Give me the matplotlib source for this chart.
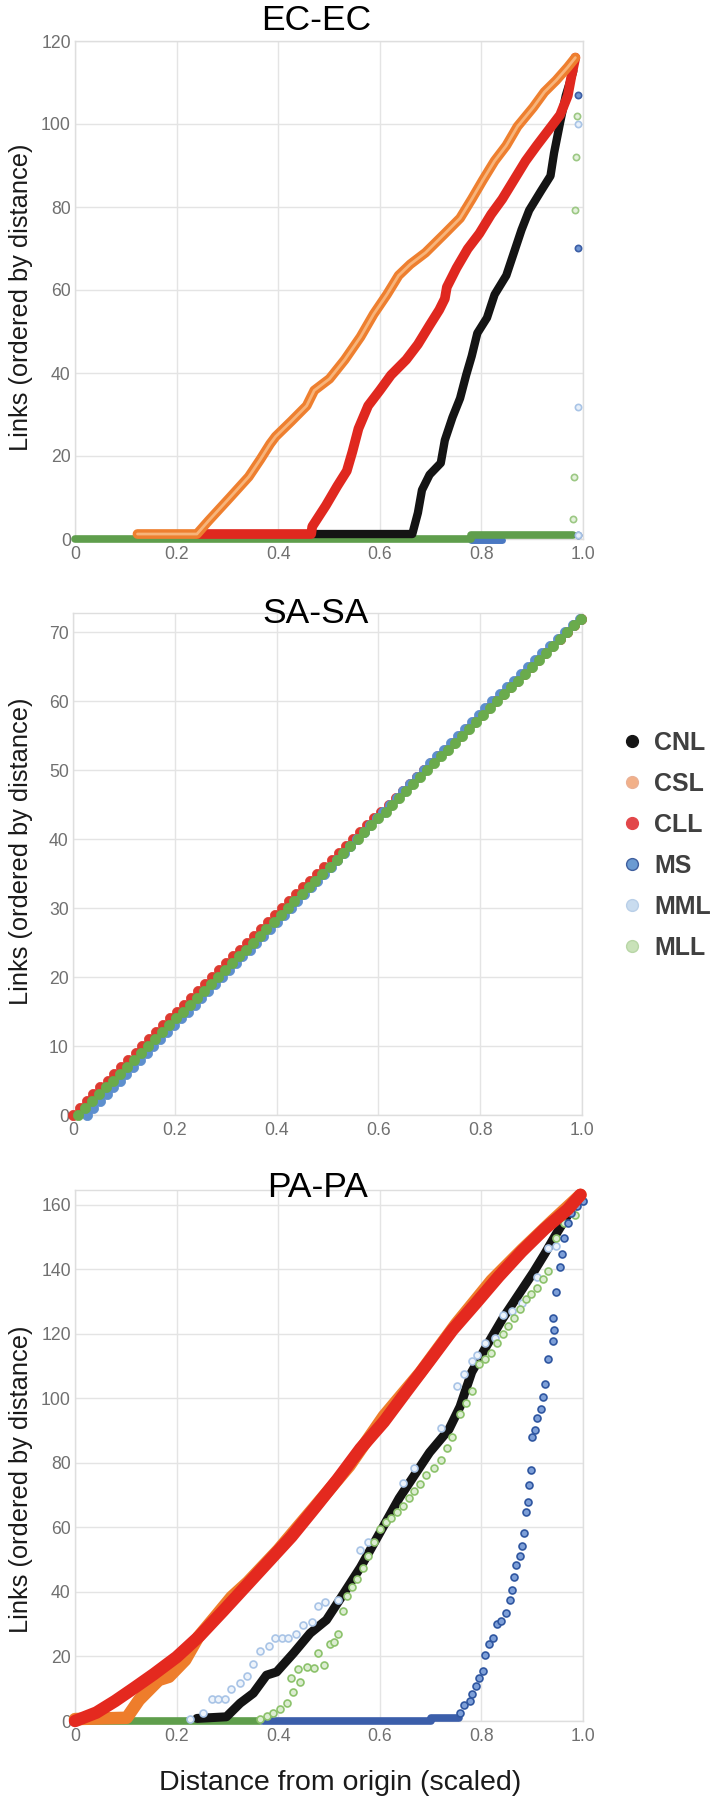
import matplotlib
matplotlib.use("Agg")
import matplotlib.pyplot as plt
from matplotlib.lines import Line2D

plt.rcParams['font.family'] = ['Liberation Sans', 'DejaVu Sans']

# legend
series_names = ['CNL', 'CSL', 'CLL', 'MS', 'MML', 'MLL']
legend_face = ['#151515', '#f2b088', '#e2474a', '#6b9bd2', '#c9dcef', '#c9e2b9']
legend_edge = ['#151515', '#eab095', '#e2474a', '#3f5f9e', '#b9cfe8', '#b8d6a6']

# ---------------- EC-EC ----------------
ec_cnl_x = [0.47, 0.664, 0.675, 0.683, 0.698, 0.72, 0.728, 0.743, 0.758, 0.77, 0.781, 0.792,
            0.811, 0.826, 0.849, 0.864, 0.879, 0.894, 0.917, 0.936, 0.943, 0.955, 0.966, 0.981]
ec_cnl_y = [1.2, 1.2, 6.3, 11.8, 15.5, 18.3, 23.8, 29.3, 33.9, 39.5, 44.1, 49.6,
            53.3, 58.9, 63.5, 69, 74.5, 79.2, 83.8, 87.5, 93, 100.4, 106.8, 112.8]

ec_csl_x = [0.123, 0.24, 0.263, 0.305, 0.342, 0.365, 0.384, 0.395, 0.426, 0.456, 0.471, 0.501,
            0.531, 0.562, 0.588, 0.614, 0.637, 0.66, 0.69, 0.728, 0.758, 0.781, 0.803, 0.826,
            0.849, 0.871, 0.902, 0.924, 0.947, 0.97, 0.985]
ec_csl_y = [1.2, 1.2, 4.4, 10, 15, 19.2, 22.9, 24.7, 28.4, 32.1, 35.8, 38.6,
            43.2, 48.7, 54.2, 58.9, 63.5, 66.2, 69, 73.6, 77.3, 81.9, 86.5, 91.1,
            94.8, 99.4, 104, 107.7, 110.5, 113.7, 116]

ec_cll_x = [0.24, 0.465, 0.467, 0.494, 0.516, 0.535, 0.546, 0.558, 0.577, 0.6, 0.622, 0.652,
            0.675, 0.698, 0.717, 0.728, 0.732, 0.751, 0.773, 0.796, 0.819, 0.841, 0.864,
            0.887, 0.909, 0.932, 0.955, 0.97, 0.977, 0.985]
ec_cll_y = [1.2, 1.2, 3, 8.1, 12.7, 16.4, 21, 26.6, 32.1, 35.8, 39.5, 43.2,
            46.9, 51.5, 55.2, 57.9, 60.7, 65.3, 69.9, 73.6, 78.2, 81.9, 86.5,
            91.1, 94.8, 98.5, 102.2, 106.8, 111.4, 116]

ec_ms_x = [0.78, 0.84]
ec_ms_y = [-0.3, -0.3]
ec_ms_pts_x = [0.991, 0.991, 0.991]
ec_ms_pts_y = [107, 70.1, 1]

ec_mml_pts_x = [0.991, 0.991, 0.991]
ec_mml_pts_y = [99.9, 31.9, 1]

ec_mll_x = [0.0, 0.78, 0.78, 0.98]
ec_mll_y = [0, 0, 1.0, 1.0]
ec_mll_pts_x = [0.988, 0.986, 0.985, 0.983, 0.98]
ec_mll_pts_y = [102, 92, 79.2, 14.9, 4.9]

# ---------------- SA-SA ----------------
sa_rank = [0, 1, 2, 3, 4, 5, 6, 7, 8, 9, 10, 11, 12, 13, 14, 15, 16, 17, 18, 19, 20,
           21, 22, 23, 24, 25, 26, 27, 28, 29, 30, 31, 32, 33, 34, 35, 36, 37, 38, 39, 40,
           41, 42, 43, 44, 45, 46, 47, 48, 49, 50, 51, 52, 53, 54, 55, 56, 57, 58, 59, 60,
           61, 62, 63, 64, 65, 66, 67, 68, 69, 70, 71, 72]
sa_cll_x = [0.000, 0.013, 0.027, 0.040, 0.054, 0.068, 0.081, 0.095, 0.109, 0.123,
            0.136, 0.150, 0.164, 0.177, 0.191, 0.205, 0.219, 0.232, 0.246, 0.260,
            0.273, 0.287, 0.301, 0.315, 0.328, 0.342, 0.356, 0.369, 0.383, 0.397,
            0.411, 0.424, 0.438, 0.452, 0.466, 0.480, 0.494, 0.508, 0.522, 0.536,
            0.550, 0.564, 0.578, 0.592, 0.606, 0.620, 0.634, 0.648, 0.662, 0.676,
            0.690, 0.704, 0.718, 0.732, 0.746, 0.760, 0.774, 0.788, 0.802, 0.816,
            0.830, 0.844, 0.858, 0.872, 0.886, 0.900, 0.914, 0.928, 0.942, 0.956,
            0.970, 0.984, 0.998]
sa_ms_x = [0.028, 0.040, 0.053, 0.066, 0.079, 0.092, 0.105, 0.118, 0.131, 0.145,
           0.158, 0.171, 0.185, 0.198, 0.212, 0.225, 0.239, 0.252, 0.266, 0.279,
           0.293, 0.306, 0.320, 0.333, 0.347, 0.360, 0.374, 0.387, 0.401, 0.414,
           0.428, 0.441, 0.454, 0.467, 0.480, 0.493, 0.506, 0.519, 0.532, 0.545,
           0.558, 0.571, 0.584, 0.597, 0.610, 0.623, 0.636, 0.649, 0.662, 0.675,
           0.689, 0.702, 0.716, 0.729, 0.743, 0.756, 0.770, 0.783, 0.797, 0.810,
           0.824, 0.838, 0.852, 0.866, 0.880, 0.894, 0.908, 0.922, 0.937, 0.952,
           0.967, 0.982, 0.997]
sa_mll_x = [0.010, 0.024, 0.038, 0.051, 0.065, 0.079, 0.092, 0.106, 0.120, 0.134,
            0.147, 0.161, 0.175, 0.188, 0.202, 0.216, 0.230, 0.243, 0.257, 0.271,
            0.284, 0.298, 0.312, 0.326, 0.339, 0.353, 0.367, 0.380, 0.394, 0.408,
            0.422, 0.435, 0.449, 0.463, 0.476, 0.490, 0.504, 0.518, 0.531, 0.545,
            0.559, 0.572, 0.586, 0.600, 0.614, 0.627, 0.641, 0.655, 0.668, 0.682,
            0.696, 0.710, 0.723, 0.737, 0.751, 0.764, 0.778, 0.792, 0.806, 0.819,
            0.833, 0.847, 0.860, 0.874, 0.888, 0.902, 0.915, 0.929, 0.943, 0.956,
            0.970, 0.984, 0.998]

# ---------------- PA-PA ----------------
pa_cll_x = [0.0, 0.042, 0.079, 0.117, 0.155, 0.2, 0.245, 0.291, 0.336, 0.381, 0.426, 0.472,
            0.517, 0.562, 0.608, 0.653, 0.698, 0.743, 0.789, 0.834, 0.879, 0.925, 0.97, 0.995]
pa_cll_y = [0, 2.6, 6.2, 10.3, 14.5, 19.8, 26.3, 34, 41.7, 49.4, 57.1, 66,
            74.9, 84.4, 92.7, 102.2, 111.6, 121.1, 129.4, 137.7, 145.4, 152.5, 158.5, 163]

pa_csl_x = [0.0, 0.102, 0.126, 0.165, 0.185, 0.217, 0.243, 0.276, 0.308, 0.34, 0.4, 0.47,
            0.54, 0.608, 0.68, 0.75, 0.82, 0.88, 0.94, 0.995]
pa_csl_y = [0.6, 1, 6.5, 12.7, 13.7, 18.9, 26.1, 32.3, 38.4, 43, 53, 66,
            79, 94.5, 108, 123, 136.5, 146, 155, 163]

pa_cnl_x = [0.24, 0.298, 0.325, 0.351, 0.377, 0.397, 0.43, 0.463, 0.495, 0.524, 0.562, 0.6,
            0.638, 0.668, 0.698, 0.736, 0.758, 0.781, 0.811, 0.842, 0.872, 0.902, 0.925,
            0.947, 0.97, 0.992]
pa_cnl_y = [0.8, 1.3, 5.5, 8.6, 14.2, 15.2, 21, 27.2, 31.3, 38.3, 47.6, 58.3,
            69, 76.1, 83.2, 90.3, 97.4, 108.1, 116.4, 124.7, 131.8, 138.9, 144.8,
            150.8, 156.7, 161.5]

pa_ms_x = [0.37, 0.70, 0.70, 0.755]
pa_ms_y = [0, 0, 0.8, 0.8]
pa_ms_pts_x = [0.758, 0.766, 0.777, 0.781, 0.789, 0.796, 0.804, 0.808, 0.815, 0.823, 0.83,
               0.838, 0.849, 0.857, 0.86, 0.864, 0.868, 0.875, 0.879, 0.883, 0.887, 0.891,
               0.894, 0.898, 0.9, 0.906, 0.909, 0.917, 0.921, 0.925, 0.932, 0.94, 0.943,
               0.94, 0.947, 0.955, 0.958, 0.962, 0.97, 0.977, 0.989, 1.0]
pa_ms_pts_y = [2.6, 5, 6.2, 8.5, 10.9, 13.3, 15.6, 20.4, 23.9, 25.7, 29.9,
               31.1, 33.4, 37.6, 40.5, 44.7, 48.2, 51.2, 54.2, 58.3, 64.8, 67.8,
               73.1, 77.9, 87.9, 90.3, 93.9, 96.8, 100.4, 104.5, 112.2, 117.6, 121.1,
               124.7, 133, 140.7, 144.8, 149.6, 154.3, 157.3, 159.6, 161]

pa_mml_pts_x = [0.226, 0.252, 0.269, 0.282, 0.295, 0.308, 0.325, 0.338, 0.351, 0.364, 0.381,
                0.394, 0.407, 0.42, 0.436, 0.449, 0.466, 0.479, 0.492, 0.517, 0.562, 0.577,
                0.645, 0.668, 0.721, 0.751, 0.766, 0.781, 0.792, 0.808, 0.826, 0.842, 0.86,
                0.879, 0.909, 0.932, 0.947, 0.985, 1.0]
pa_mml_pts_y = [0.5, 2.6, 6.7, 6.7, 6.7, 9.8, 11.9, 13.8, 17.7, 21.6, 23.1,
                25.8, 25.8, 25.8, 26.8, 29.7, 30.7, 35.5, 36.9, 37.6, 53, 55.3,
                73.7, 78.5, 90.9, 103.9, 107.5, 111.6, 113.4, 117, 118.8, 125.9, 127,
                129.4, 137.7, 146.6, 147.2, 159.6, 161]

pa_mll_x = [0.0, 0.364]
pa_mll_y = [0, 0]
pa_mll_pts_x = [0.364, 0.377, 0.39, 0.404, 0.417, 0.426, 0.43, 0.438, 0.443, 0.457, 0.47, 0.479,
                0.49, 0.502, 0.51, 0.517, 0.528, 0.536, 0.545, 0.555, 0.566, 0.577, 0.588, 0.6,
                0.612, 0.623, 0.634, 0.645, 0.657, 0.668, 0.68, 0.691, 0.706, 0.721, 0.732,
                0.743, 0.758, 0.77, 0.781, 0.796, 0.808, 0.819, 0.83, 0.842, 0.853, 0.864,
                0.876, 0.887, 0.898, 0.909, 0.921, 0.932, 0.947, 0.962, 0.985]
pa_mll_pts_y = [0.5, 1.5, 2.6, 3.6, 5.6, 13.3, 9.1, 16.2, 12.2, 16.8, 16.3, 21,
                17.4, 23.9, 24.5, 26.9, 34, 38.8, 41.5, 44.1, 47.5, 51.2, 55.5, 59.5,
                61.5, 63, 64.8, 66.6, 69, 71.3, 73.5, 76.1, 78.5, 80.8, 84.5,
                87.9, 95.1, 98.5, 102.2, 110.5, 112.2, 114, 117, 119.9, 122.4, 124.7,
                127.5, 130.6, 132.4, 134.2, 137, 139.5, 149.6, 154.3, 156.7]

fig = plt.figure(figsize=(7.2, 18), dpi=100)
ax1 = fig.add_axes([75 / 720, 1 - 539 / 1800, 508 / 720, 498 / 1800])
ax2 = fig.add_axes([73 / 720, 1 - 1115 / 1800, 509 / 720, 502 / 1800])
ax3 = fig.add_axes([75 / 720, 1 - 1721 / 1800, 508 / 720, 531 / 1800])


def style(ax, ymax, yticks):
    ax.set_xlim(0, 1.0)
    ax.set_ylim(0, ymax)
    ax.set_xticks([0, 0.2, 0.4, 0.6, 0.8, 1.0])
    ax.set_xticklabels(['0', '0.2', '0.4', '0.6', '0.8', '1.0'])
    ax.set_yticks(yticks)
    ax.set_yticklabels([str(t) for t in yticks])
    ax.grid(color='#e4e4e4', lw=1)
    ax.set_axisbelow(True)
    for s in ax.spines.values():
        s.set_color('#dedede')
        s.set_linewidth(1)
    ax.tick_params(length=0, labelsize=12.7, labelcolor='#707070')
    ax.tick_params(axis='x', pad=5)
    ax.tick_params(axis='y', pad=3)


def band(ax, x, y, color, lw, z):
    ax.plot(x, y, color=color, lw=lw, solid_capstyle='round', solid_joinstyle='round',
            clip_on=False, zorder=z)


def dots(ax, x, y, face, edge, ms, z, mew=1.2):
    ax.plot(x, y, 'o', ls='none', ms=ms, mfc=face, mec=edge, mew=mew, clip_on=False, zorder=z)


# EC-EC
style(ax1, 120, [0, 20, 40, 60, 80, 100, 120])
band(ax1, ec_ms_x, ec_ms_y, '#4a78c2', 5, 3)
band(ax1, ec_mll_x, ec_mll_y, '#5f9e4c', 5.5, 4)
band(ax1, ec_cnl_x, ec_cnl_y, '#141414', 6, 5)
band(ax1, ec_cll_x, ec_cll_y, '#e0281f', 7, 6)
band(ax1, ec_csl_x, ec_csl_y, '#ee7f2f', 7, 7)
band(ax1, ec_csl_x, ec_csl_y, '#f7b47a', 2, 7.5)
dots(ax1, ec_ms_pts_x, ec_ms_pts_y, '#7097d4', '#3c5ea5', 4.5, 8)
dots(ax1, ec_mml_pts_x, ec_mml_pts_y, '#e8f0fa', '#a9c4e6', 4.5, 8)
dots(ax1, ec_mll_pts_x, ec_mll_pts_y, '#e4f1dc', '#9cc884', 4.5, 8)

# SA-SA
style(ax2, 72.8, [0, 10, 20, 30, 40, 50, 60, 70])
dots(ax2, sa_cll_x, sa_rank, '#de3a30', '#de3a30', 7.4, 5, 0.5)
dots(ax2, sa_ms_x, sa_rank, '#5d8fce', '#5d8fce', 7.4, 6, 0.5)
dots(ax2, sa_mll_x, sa_rank, '#6aab4c', '#6aab4c', 7.4, 7, 0.5)

# PA-PA
style(ax3, 164.5, [0, 20, 40, 60, 80, 100, 120, 140, 160])
band(ax3, pa_mll_x, pa_mll_y, '#5f9e4c', 5.5, 3)
band(ax3, pa_ms_x, pa_ms_y, '#3b5eaa', 5.5, 3)
band(ax3, pa_cnl_x, pa_cnl_y, '#141414', 6.5, 4)
dots(ax3, pa_mml_pts_x, pa_mml_pts_y, '#eef4fb', '#a9c4e6', 5, 5)
dots(ax3, pa_mll_pts_x, pa_mll_pts_y, '#dcedd2', '#8cc26b', 5, 6)
dots(ax3, pa_ms_pts_x, pa_ms_pts_y, '#7d9fd8', '#2f56a0', 5, 6)
band(ax3, pa_csl_x, pa_csl_y, '#ee7d2b', 9, 7)
band(ax3, pa_cll_x, pa_cll_y, '#e4291f', 9, 8)

# titles and axis labels
fig.text(316 / 720, 1 - 30 / 1800, 'EC-EC', ha='center', va='baseline', fontsize=25.5)
fig.text(316 / 720, 1 - 623 / 1800, 'SA-SA', ha='center', va='baseline', fontsize=25.5)
fig.text(318 / 720, 1 - 1197 / 1800, 'PA-PA', ha='center', va='baseline', fontsize=25.5)
for yc in [297, 851, 1479]:
    fig.text(21 / 720, 1 - yc / 1800, 'Links (ordered by distance)', rotation=90,
             ha='center', va='center', fontsize=18.3, color='#1a1a1a')
fig.text(340 / 720, 1 - 1790 / 1800, 'Distance from origin (scaled)', ha='center',
         va='baseline', fontsize=20.5, color='#1a1a1a')

handles = [Line2D([], [], marker='o', ls='none', ms=8.5, mfc=f, mec=e, mew=1)
           for f, e in zip(legend_face, legend_edge)]
fig.legend(handles, series_names, loc='upper left', bbox_to_anchor=(622 / 720, 1 - 731 / 1800),
           frameon=False, borderpad=0, borderaxespad=0, handlelength=0.8, handletextpad=0.48,
           labelspacing=0.68, prop={'weight': 'bold', 'size': 18}, labelcolor='#404040')

fig.savefig('out.png', dpi=100)
